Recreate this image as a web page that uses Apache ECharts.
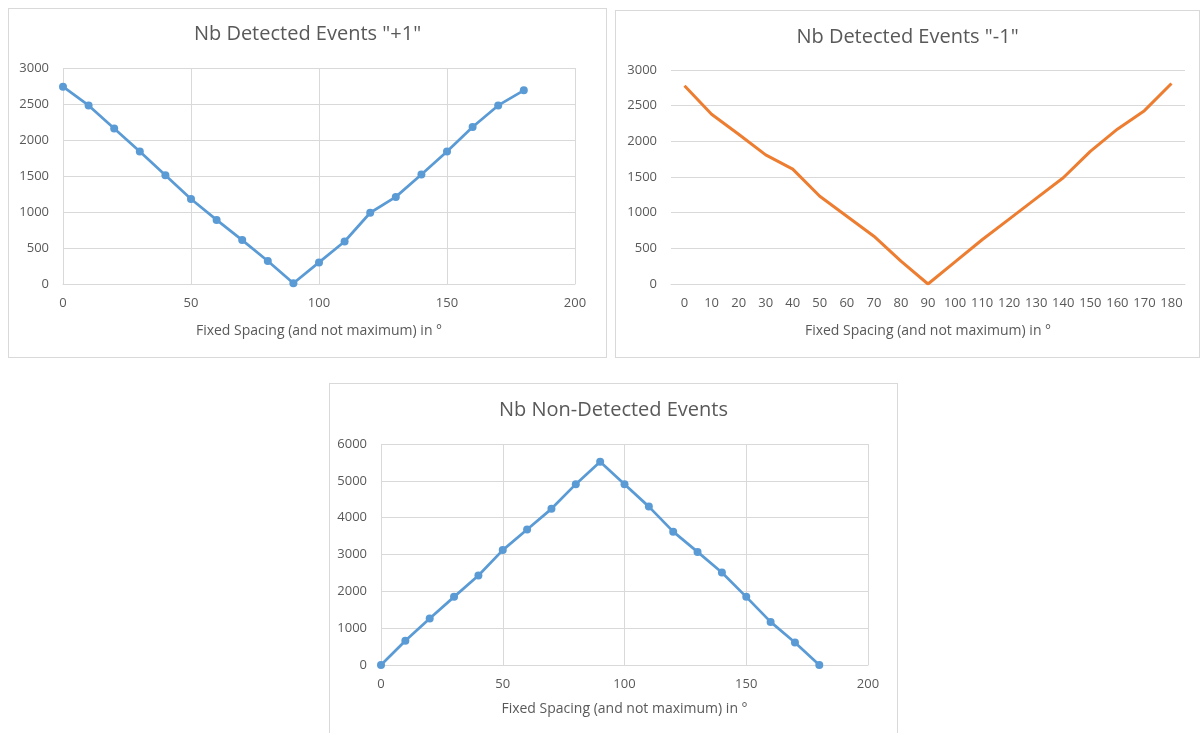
<!DOCTYPE html>
<html>
<head>
<meta charset="utf-8">
<script src="https://cdn.jsdelivr.net/npm/echarts@6/dist/echarts.min.js"></script>
<style>
  html, body {margin: 0; padding: 0; background: #fff; width: 1200px; height: 733px; overflow: hidden;}
  .panel {position: absolute; border: 1px solid #d9d9d9; box-sizing: border-box; background: #fff;}
  .chart {width: 100%; height: 100%;}
</style>
</head>
<body>
<div class="panel" style="left:8px;top:8px;width:599px;height:350px;"><div id="c1" class="chart"></div></div>
<div class="panel" style="left:615px;top:10px;width:585px;height:348px;"><div id="c2" class="chart"></div></div>
<div class="panel" style="left:329px;top:383px;width:569px;height:360px;"><div id="c3" class="chart"></div></div>
<script>
// spacing in degrees
const spacing = [0, 10, 20, 30, 40, 50, 60, 70, 80, 90, 100, 110, 120, 130, 140, 150, 160, 170, 180];
const detectedPlus = [2740, 2480, 2160, 1840, 1510, 1180, 890, 610, 320, 10, 300, 590, 990, 1210, 1520, 1840, 2180, 2480, 2690];
const detectedMinus = [2780, 2380, 2100, 1810, 1610, 1230, 950, 670, 320, 0, 310, 620, 910, 1200, 1490, 1860, 2170, 2430, 2810];
const nonDetected = [0, 660, 1260, 1850, 2430, 3120, 3680, 4240, 4910, 5520, 4910, 4300, 3620, 3070, 2510, 1850, 1170, 610, 0];

const axisName = 'Fixed Spacing (and not maximum) in °';
const font = '"Open Sans", sans-serif';
const grey = '#595959';
const gridGrey = '#d9d9d9';

function pairs(ys) {
  return spacing.map((x, i) => [x, ys[i]]);
}

function baseTitle(text, top) {
  return {
    text: text, left: 'center', top: top,
    textStyle: {color: grey, fontFamily: font, fontSize: 20, fontWeight: 'normal'}
  };
}

function yAxis(max, interval) {
  return {
    type: 'value', min: 0, max: max, interval: interval,
    axisLine: {show: false}, axisTick: {show: false},
    axisLabel: {color: grey, fontFamily: font, fontSize: 13, margin: 14, formatter: v => String(v)},
    splitLine: {lineStyle: {color: gridGrey, width: 1}}
  };
}

function valueX(gap) {
  return {
    type: 'value', min: 0, max: 200, interval: 50,
    name: axisName, nameLocation: 'middle', nameGap: gap,
    nameTextStyle: {color: grey, fontFamily: font, fontSize: 14},
    axisLine: {show: true, lineStyle: {color: gridGrey}},
    axisTick: {show: false},
    axisLabel: {color: grey, fontFamily: font, fontSize: 13, margin: 13},
    splitLine: {show: true, lineStyle: {color: gridGrey, width: 1}}
  };
}

function blueSeries(ys) {
  return {
    type: 'line', data: pairs(ys),
    symbol: 'circle', symbolSize: 8,
    lineStyle: {color: '#5b9bd5', width: 2.75},
    itemStyle: {color: '#5b9bd5'},
    silent: true
  };
}

const c1 = echarts.init(document.getElementById('c1'));
c1.setOption({
  animation: false,
  title: baseTitle('Nb Detected Events "+1"', 10),
  grid: {left: 54, right: 31, top: 59, bottom: 73},
  xAxis: valueX(40),
  yAxis: yAxis(3000, 500),
  series: [blueSeries(detectedPlus)]
});

const c2 = echarts.init(document.getElementById('c2'));
c2.setOption({
  animation: false,
  title: baseTitle('Nb Detected Events "-1"', 11),
  grid: {left: 55, right: 14, top: 59, bottom: 73},
  xAxis: {
    type: 'category', data: spacing.map(String), boundaryGap: true,
    name: axisName, nameLocation: 'middle', nameGap: 40,
    nameTextStyle: {color: grey, fontFamily: font, fontSize: 14},
    axisLine: {show: true, lineStyle: {color: gridGrey}},
    axisTick: {show: false},
    axisLabel: {color: grey, fontFamily: font, fontSize: 13, margin: 13, interval: 0},
    splitLine: {show: false}
  },
  yAxis: yAxis(3000, 500),
  series: [{
    type: 'line', data: detectedMinus, symbol: 'none',
    lineStyle: {color: '#ed7d31', width: 3},
    silent: true
  }]
});

const c3 = echarts.init(document.getElementById('c3'));
c3.setOption({
  animation: false,
  title: baseTitle('Nb Non-Detected Events', 11),
  grid: {left: 51, right: 29, top: 60, bottom: 77},
  xAxis: valueX(37),
  yAxis: yAxis(6000, 1000),
  series: [blueSeries(nonDetected)]
});
</script>
</body>
</html>
